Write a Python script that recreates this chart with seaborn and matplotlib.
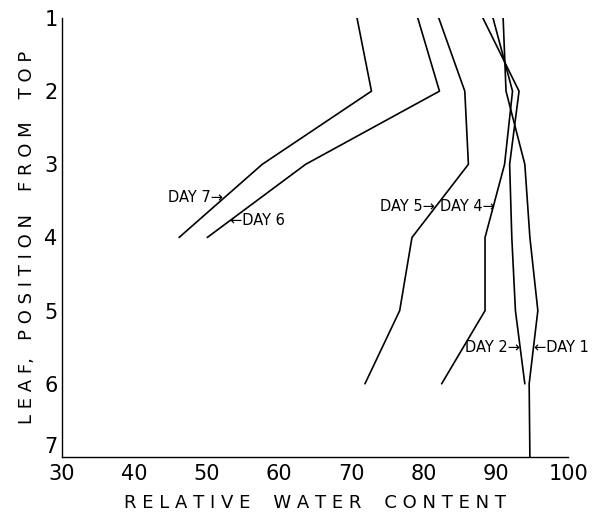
import matplotlib
matplotlib.use("Agg")
import matplotlib.pyplot as plt
import seaborn as sns
import pandas as pd

# Leaf position from top (1 = top leaf)
positions = [1, 2, 3, 4, 5, 6, 7]

# Relative water content per day
day1 = [91.0, 91.4, 94.0, 94.7, 95.8, 94.6, 94.7]
day2 = [88.2, 93.2, 91.9, 92.2, 92.7, 94.0]
day4 = [89.6, 92.3, 91.2, 88.5, 88.5, 82.5]
day5 = [82.1, 85.7, 86.2, 78.4, 76.7, 71.9]
day6 = [79.2, 82.2, 63.7, 50.1]
day7 = [70.8, 72.8, 57.7, 46.2]

series = {"DAY 1": day1, "DAY 2": day2, "DAY 4": day4,
          "DAY 5": day5, "DAY 6": day6, "DAY 7": day7}

rows = []
for name, vals in series.items():
    for p, v in zip(positions, vals):
        rows.append({"day": name, "position": p, "rwc": v})
df = pd.DataFrame(rows)

x_ticks = [30, 40, 50, 60, 70, 80, 90, 100]
y_ticks = [1, 2, 3, 4, 5, 6, 7]

sns.set_style("white")
plt.rcParams["font.family"] = ["DejaVu Sans"]
plt.rcParams["text.color"] = "black"
plt.rcParams["axes.labelcolor"] = "black"
plt.rcParams["xtick.color"] = "black"
plt.rcParams["ytick.color"] = "black"

fig = plt.figure(figsize=(5.95, 5.14), dpi=100)
ax = fig.add_axes([0.104, 0.111, 0.851, 0.854])

sns.lineplot(data=df, x="rwc", y="position", hue="day", units="day",
             estimator=None, sort=False,
             palette={k: "black" for k in series}, legend=False,
             linewidth=1.2, ax=ax)

ax.set_xlim(30, 100)
ax.set_ylim(7, 1)
ax.set_xticks(x_ticks)
ax.set_yticks(y_ticks)
ax.set_xticklabels([str(t) for t in x_ticks], fontsize=15, color="black")
ylabels = ax.set_yticklabels([str(t) for t in y_ticks], fontsize=15,
                             color="black")
ylabels[-1].set_va("bottom")
ax.tick_params(direction="in", length=5, width=1, color="black", pad=3)
ax.tick_params(axis="x", pad=5)

for s in ["top", "right"]:
    ax.spines[s].set_visible(False)
for s in ["left", "bottom"]:
    ax.spines[s].set_color("black")
    ax.spines[s].set_linewidth(1.0)

ax.set_xlabel("R E L A T I V E    W A T E R    C O N T E N T", fontsize=13,
              labelpad=7, color="black")
ax.set_ylabel("L E A F,   P O S I T I O N    F R O M    T O P", fontsize=13,
              labelpad=6, color="black")

# Day labels with arrows
fs = 10.5
kw = dict(va="center", fontsize=fs, color="black")
ax.text(52.3, 3.46, "DAY 7\u2192", ha="right", **kw)
ax.text(53.2, 3.77, "\u2190DAY 6", ha="left", **kw)
ax.text(81.5, 3.57, "DAY 5\u2192", ha="right", **kw)
ax.text(89.8, 3.57, "DAY 4\u2192", ha="right", **kw)
ax.text(93.3, 5.51, "DAY 2\u2192", ha="right", **kw)
ax.text(95.3, 5.51, "\u2190DAY 1", ha="left", **kw)

fig.savefig("out.png", dpi=100)
